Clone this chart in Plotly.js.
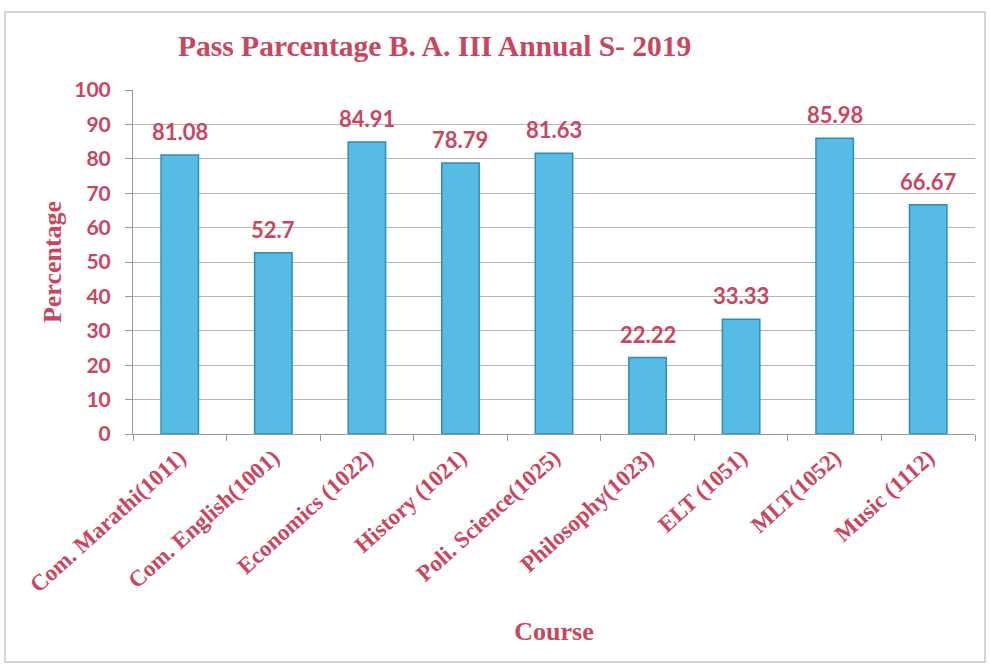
<!DOCTYPE html>
<html>
<head>
<meta charset="utf-8">
<script src="https://cdn.plot.ly/plotly-3.0.1.min.js"></script>
<style>html,body{margin:0;padding:0;background:#fff;}#chart{width:990px;height:668px;}</style>
</head>
<body>
<div id="chart"></div>
<script>
const courses = ["Com. Marathi(1011)", "Com. English(1001)", "Economics (1022)", "History (1021)", "Poli. Science(1025)", "Philosophy(1023)", "ELT (1051)", "MLT(1052)", "Music (1112)"];
const passPct = [81.08, 52.7, 84.91, 78.79, 81.63, 22.22, 33.33, 85.98, 66.67];
const passLabels = ["81.08", "52.7", "84.91", "78.79", "81.63", "22.22", "33.33", "85.98", "66.67"];
const yTicks = [0, 10, 20, 30, 40, 50, 60, 70, 80, 90, 100];

const RED = '#c9465f';
const serif = '"Liberation Serif", "DejaVu Serif", serif';
const sans = 'Lato, "Open Sans", sans-serif';

const trace = {
  type: 'bar',
  x: courses,
  y: passPct,
  marker: {color: '#56bce5', line: {color: '#2f8db5', width: 1.5}},
  hoverinfo: 'x+y'
};

const labelAnnotations = courses.map((c, i) => ({
  x: c, y: passPct[i], xref: 'x', yref: 'y',
  text: '<b>' + passLabels[i] + '</b>',
  showarrow: false, yanchor: 'bottom', yshift: 8,
  font: {family: sans, size: 22, color: RED}
}));

const layout = {
  width: 990, height: 668,
  margin: {l: 133, r: 15, t: 90, b: 234},
  paper_bgcolor: '#fff', plot_bgcolor: '#fff',
  bargap: 0.6,
  showlegend: false,
  title: {
    text: '<b>Pass Parcentage B. A. III Annual S- 2019</b>',
    font: {family: serif, size: 29.5, color: RED},
    x: 178/990, xanchor: 'left', xref: 'container',
    y: 1 - 46/668, yanchor: 'middle', yref: 'container'
  },
  xaxis: {
    type: 'category',
    tickangle: -42,
    tickson: 'boundaries',
    ticks: 'outside', ticklen: 6, tickcolor: '#999',
    showline: true, linecolor: '#999', linewidth: 1,
    showgrid: false,
    tickfont: {family: serif, size: 23, color: RED, weight: 'bold'},
    title: {text: '<b>Course</b>', font: {family: serif, size: 26, color: RED}, standoff: 25},
    automargin: false
  },
  yaxis: {
    range: [0, 100],
    tickvals: yTicks,
    ticks: 'outside', ticklen: 7, tickcolor: '#999',
    ticklabelstandoff: 10,
    showline: true, linecolor: '#999', linewidth: 1,
    showgrid: true, gridcolor: '#b5b5b5', gridwidth: 1,
    zeroline: false,
    tickfont: {family: sans, size: 21, color: RED, weight: 'bold'},
    title: {text: '<b>Percentage</b>', font: {family: serif, size: 26, color: RED}, standoff: 5},
    automargin: false
  },
  annotations: labelAnnotations,
  shapes: [{
    type: 'rect', xref: 'paper', yref: 'paper',
    x0: (5 - 133) / 842, x1: (985 - 133) / 842,
    y0: (434 - 662) / 344, y1: (434 - 12) / 344,
    line: {color: '#c8c8c8', width: 1.5}, fillcolor: 'rgba(0,0,0,0)', layer: 'below'
  }]
};

Plotly.newPlot('chart', [trace], layout, {displayModeBar: false, staticPlot: true});
</script>
</body>
</html>
